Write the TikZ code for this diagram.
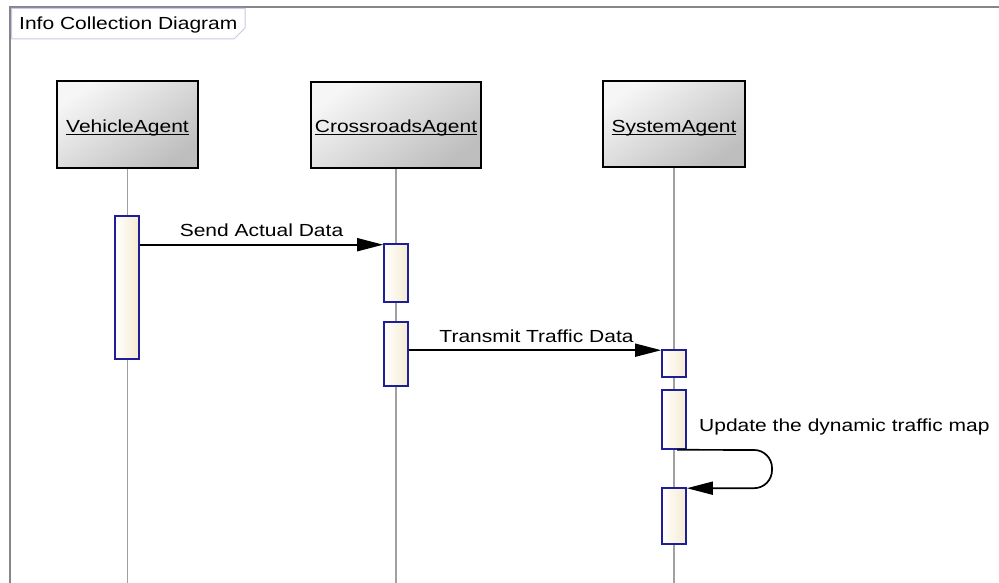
\documentclass[tikz,border=0pt]{standalone}
\usepackage{fontspec}
\usetikzlibrary{arrows.meta}
\newfontfamily\diagfont[FakeStretch=1.2]{Liberation Sans}
\newcommand\headul[1]{\setbox0\hbox{#1}\rlap{\rule[-1.9pt]{\wd0}{1.2pt}}\box0}
\definecolor{framegray}{HTML}{85858C}
\definecolor{tabline}{HTML}{C8C8E6}
\definecolor{lifegray}{HTML}{A0A0A0}
\definecolor{actborder}{HTML}{1E1E96}
\definecolor{actcream}{HTML}{F5EBD2}
\definecolor{headlight}{HTML}{F6F6F6}
\definecolor{headdark}{HTML}{BEBEBE}
\tikzset{
  lbl/.style={font=\diagfont\fontsize{17.5}{20}\selectfont, inner sep=0pt, text=black},
  headbox/.style={draw=black, line width=1.8pt, rectangle, inner sep=0pt,
    top color=headlight, bottom color=headdark, shading angle=35,
    font=\diagfont\fontsize{17.5}{20}\selectfont},
  actbox/.style={draw=actborder, line width=1.6pt, rectangle, inner sep=0pt,
    minimum width=24pt, left color=white, right color=actcream},
  lifeline/.style={draw=lifegray, line width=1.1pt},
  msg/.style={draw=black, line width=1.7pt, -{Triangle[length=26pt,width=13pt]}},
}
\begin{document}
\begin{tikzpicture}[x=1pt,y=-1pt]
\useasboundingbox (0,0) rectangle (999,583);

% diagram frame and title tab
\draw[framegray, line width=2.4pt] (10,583) -- (10,7) -- (999,7);
\draw[tabline, fill=white, line width=1pt]
  (11.5,8.5) -- (245,8.5) -- (245,28) -- (234,39) -- (11.5,39) -- cycle;
\node[lbl, anchor=base west] (title) at (19,30) {Info Collection Diagram};

% lifeline heads
\node[headbox, minimum width=141pt, minimum height=87pt] (veh) at (127.5,124.5) {};
\node[headbox, minimum width=170pt, minimum height=86pt] (cross) at (396,125) {};
\node[headbox, minimum width=142pt, minimum height=86pt] (sys) at (674,124) {};
\node[lbl, anchor=base] (vehlbl) at (127.5,133) {\headul{VehicleAgent}};
\node[lbl, anchor=base] (crosslbl) at (396,133) {\headul{CrossroadsAgent}};
\node[lbl, anchor=base] (syslbl) at (674,133) {\headul{SystemAgent}};

% lifelines
\coordinate (vehEnd) at (127.5,583);
\coordinate (crossEnd) at (396,583);
\coordinate (sysEnd) at (674,583);
\draw[lifeline] (veh.south) -- (vehEnd);
\draw[lifeline] (cross.south) -- (crossEnd);
\draw[lifeline] (sys.south) -- (sysEnd);

% activation bars
\node[actbox, minimum height=143pt] (vA) at (127,287.5) {};
\node[actbox, minimum height=58pt] (cA1) at (396,273) {};
\node[actbox, minimum height=64pt] (cA2) at (396,354) {};
\node[actbox, minimum height=27pt] (sA1) at (674,363.5) {};
\node[actbox, minimum height=59pt] (sA2) at (674,419.5) {};
\node[actbox, minimum height=56pt] (sA3) at (674,516) {};

% message end points just below the tops of the receiving bars
\coordinate (m1in) at ([yshift=-1.5pt]cA1.north west);
\coordinate (m2in) at ([yshift=-1pt]sA1.north west);
\coordinate (m3in) at ([yshift=-1pt]sA3.north east);
\coordinate (m3out) at ([xshift=3pt]sA2.south);
\coordinate (loop) at (772,450);

% messages
\draw[msg] (vA.east |- m1in) -- (m1in);
\node[lbl, anchor=base] (m1) at (261.5,236) {Send Actual Data};

\draw[msg] (cA2.east |- m2in) -- (m2in);
\node[lbl, anchor=base] (m2) at (536.5,342) {Transmit Traffic Data};

\draw[msg, rounded corners=18pt] (m3out) -- (loop) |- (m3in);
\node[lbl, anchor=base west] (m3) at (699,431) {Update the dynamic traffic map};
\end{tikzpicture}
\end{document}
